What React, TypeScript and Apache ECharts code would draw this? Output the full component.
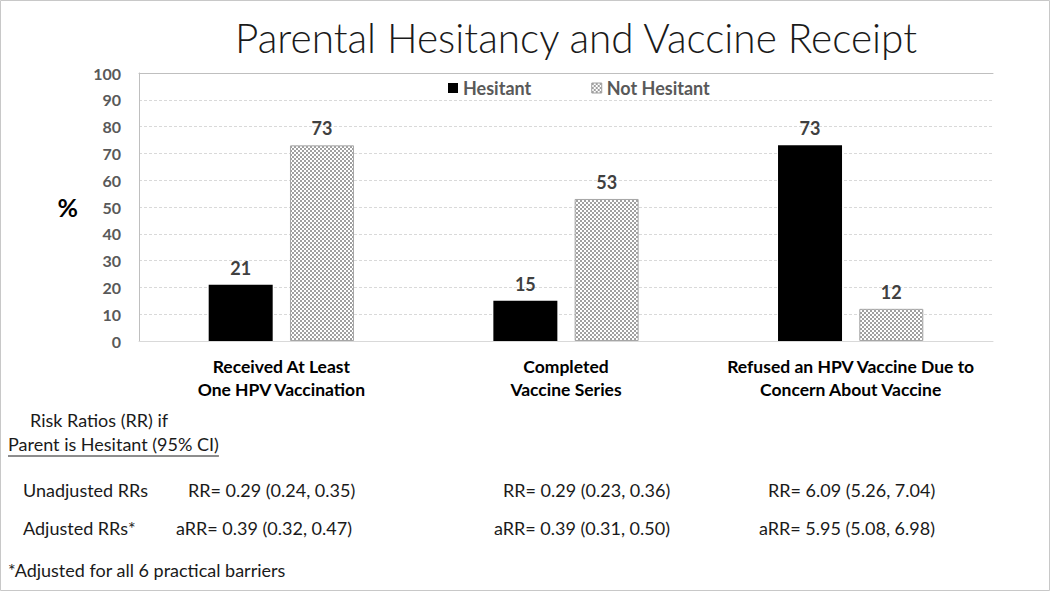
import React, { useEffect, useRef } from "react";
import * as echarts from "echarts";

const categories = [
  "Received At Least\nOne HPV Vaccination",
  "Completed\nVaccine Series",
  "Refused an HPV Vaccine Due to\nConcern About Vaccine",
];
const hesitant = [21, 15, 73];
const notHesitant = [73, 53, 12];
const seriesNames = ["Hesitant", "Not Hesitant"];
const unadjusted = ["RR= 0.29 (0.24, 0.35)", "RR= 0.29 (0.23, 0.36)", "RR= 6.09 (5.26, 7.04)"];
const adjusted = ["aRR= 0.39 (0.32, 0.47)", "aRR= 0.39 (0.31, 0.50)", "aRR= 5.95 (5.08, 6.98)"];

const FONT = "Lato, 'Open Sans', sans-serif";

function makePattern(): HTMLCanvasElement {
  const c = document.createElement("canvas");
  c.width = 4;
  c.height = 4;
  const ctx = c.getContext("2d")!;
  ctx.fillStyle = "#ffffff";
  ctx.fillRect(0, 0, 4, 4);
  ctx.fillStyle = "#a0a0a0";
  ctx.fillRect(0, 0, 2, 2);
  ctx.fillRect(2, 2, 2, 2);
  return c;
}

function textWidth(text: string, font: string): number {
  const c = document.createElement("canvas");
  const ctx = c.getContext("2d")!;
  ctx.font = font;
  return ctx.measureText(text).width;
}

export default function App() {
  const ref = useRef<HTMLDivElement>(null);
  useEffect(() => {
    if (!ref.current) return;
    const chart = echarts.init(ref.current, undefined, { renderer: "svg" });
    const pattern = { image: makePattern(), repeat: "repeat" as const };
    const bodyFont = 18;
    const underlineText = "Parent is Hesitant (95% CI)";
    const uw = textWidth(underlineText, `${bodyFont}px Lato`);
    const txt = (x: number, y: number, text: string, extra: any = {}) => ({
      type: "text",
      left: x,
      top: y,
      style: { text, font: `${bodyFont}px ${FONT}`, fill: "#1a1a1a", ...extra },
    });
    const rrX1 = [188, 503, 768];
    const rrX2 = [176, 494, 759];
    chart.setOption({
      animation: false,
      backgroundColor: "#ffffff",
      title: {
        text: "Parental Hesitancy and Vaccine Receipt",
        left: 571,
        textAlign: "center",
        top: 12,
        textStyle: { fontFamily: FONT, fontSize: 40.5, fontWeight: 300, color: "#1a1a1a" },
      },
      legend: {
        left: 443,
        top: 74,
        itemWidth: 10,
        itemHeight: 10,
        itemGap: 60,
        icon: "rect",
        textStyle: { fontFamily: FONT, fontSize: 18, fontWeight: "bold", color: "#595959" },
        data: [
          { name: seriesNames[0], itemStyle: { color: "#000000" } },
          { name: seriesNames[1], itemStyle: { color: pattern, borderColor: "#a0a0a0", borderWidth: 1 } },
        ],
      },
      grid: { left: 139, right: 57, top: 73, bottom: 250 },
      xAxis: [
        {
          type: "category",
          data: categories,
          axisLine: { show: true, lineStyle: { color: "#d9d9d9" } },
          axisTick: { show: false },
          axisLabel: {
            interval: 0,
            margin: 14,
            fontFamily: FONT,
            fontSize: 17.5,
            fontWeight: "bold",
            color: "#000000",
            lineHeight: 23,
          },
        },
        {
          type: "category",
          position: "top",
          data: categories,
          axisLine: { show: true, lineStyle: { color: "#bfbfbf" } },
          axisTick: { show: false },
          axisLabel: { show: false },
        },
      ],
      yAxis: {
        type: "value",
        min: 0,
        max: 100,
        interval: 10,
        name: "%",
        nameLocation: "middle",
        nameRotate: 0,
        nameGap: 61,
        nameTextStyle: { fontFamily: FONT, fontSize: 25, fontWeight: "bold", color: "#000000" },
        axisLine: { show: true, lineStyle: { color: "#bfbfbf" } },
        axisTick: { show: false },
        axisLabel: { margin: 18, fontFamily: FONT, fontSize: 16, fontWeight: "bold", color: "#595959" },
        splitLine: { show: true, lineStyle: { color: "#d9d9d9", type: [3, 2] } },
      },
      series: [
        {
          name: seriesNames[0],
          type: "bar",
          data: hesitant,
          barWidth: 64,
          barGap: "27%",
          itemStyle: { color: "#000000" },
          label: {
            show: true,
            position: "top",
            distance: 8,
            fontFamily: FONT,
            fontSize: 18,
            fontWeight: "bold",
            color: "#404040",
          },
        },
        {
          name: seriesNames[1],
          type: "bar",
          data: notHesitant,
          barWidth: 64,
          itemStyle: { color: pattern, borderColor: "#a6a6a6", borderWidth: 1 },
          label: {
            show: true,
            position: "top",
            distance: 8,
            fontFamily: FONT,
            fontSize: 18,
            fontWeight: "bold",
            color: "#404040",
          },
        },
      ],
      graphic: [
        {
          type: "rect",
          shape: { x: 0.5, y: 0.5, width: 1049, height: 590 },
          style: { fill: "none", stroke: "#c8c8c8", lineWidth: 1 },
          silent: true,
        },
        txt(30, 411, "Risk Ratios (RR) if"),
        txt(8, 435, underlineText),
        {
          type: "line",
          shape: { x1: 8, y1: 456, x2: 8 + uw, y2: 456 },
          style: { stroke: "#1a1a1a", lineWidth: 1 },
        },
        txt(23, 481, "Unadjusted RRs"),
        txt(23, 519, "Adjusted RRs*"),
        ...unadjusted.map((t, i) => txt(rrX1[i], 481, t)),
        ...adjusted.map((t, i) => txt(rrX2[i], 519, t)),
        txt(8, 561, "*Adjusted for all 6 practical barriers"),
      ],
    });
    return () => chart.dispose();
  }, []);
  return (
    <div
      ref={ref}
      style={{ position: "absolute", left: 0, top: 0, width: 1050, height: 591 }}
    />
  );
}
